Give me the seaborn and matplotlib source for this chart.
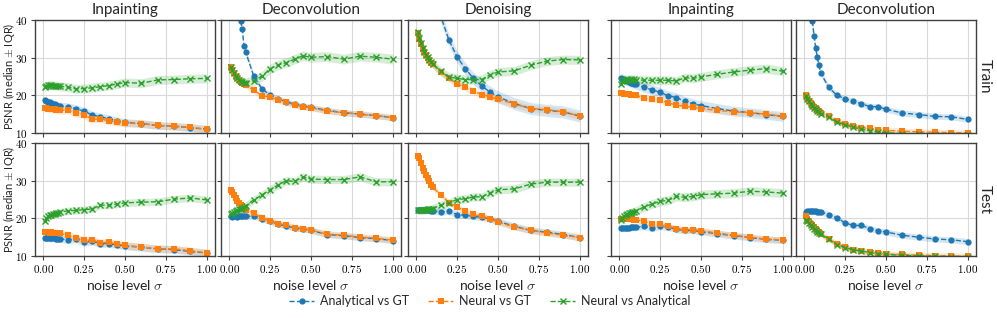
import numpy as np
import pandas as pd
import matplotlib
matplotlib.use("Agg")
import matplotlib.pyplot as plt
from matplotlib.lines import Line2D
from matplotlib.ticker import FuncFormatter
import seaborn as sns

# ---------------------------------------------------------
# Data (median PSNR)
# ---------------------------------------------------------
sigma = [0.01, 0.02, 0.03, 0.04, 0.05, 0.06, 0.07, 0.08, 0.09, 0.10,
         0.15, 0.20, 0.25, 0.30, 0.35, 0.40, 0.45, 0.50,
         0.60, 0.70, 0.80, 0.90, 1.00]

titles = ["Inpainting", "Deconvolution", "Denoising", "Inpainting", "Deconvolution"]
rows = ["Train", "Test"]
pairs = ["Analytical vs GT", "Neural vs GT", "Neural vs Analytical"]

# Train row
tr_inp_a_gt = [18.7, 18.5, 18.3, 18.1, 17.9, 17.8, 17.6, 17.5, 17.3, 17.2, 17.0, 16.5, 15.8, 14.8, 14.3, 13.8, 13.2, 12.8, 12.5, 12.0, 11.8, 11.4, 11.0]
tr_inp_n_gt = [16.7, 16.6, 16.5, 16.5, 16.4, 16.3, 16.3, 16.2, 16.1, 16.0, 16.1, 15.2, 14.8, 13.6, 13.8, 13.2, 12.9, 12.6, 12.5, 12.0, 11.8, 11.5, 11.0]
tr_inp_n_a = [22.3, 22.6, 22.7, 22.7, 22.7, 22.6, 22.6, 22.6, 22.5, 22.4, 22.2, 21.7, 21.8, 22.0, 22.3, 22.6, 23.0, 23.4, 23.2, 24.1, 24.2, 24.4, 24.5]

tr_dec_a_gt = [72.0, 62.0, 55.0, 50.0, 46.0, 42.5, 39.7, 37.6, 33.2, 31.6, 25.1, 21.7, 20.1, 19.0, 18.3, 17.6, 17.1, 16.8, 16.0, 15.4, 15.0, 14.6, 14.1]
tr_dec_n_gt = [27.6, 26.7, 25.9, 25.1, 24.5, 24.0, 23.6, 23.2, 22.9, 22.7, 21.4, 19.9, 19.5, 18.8, 18.1, 17.4, 17.0, 16.7, 15.8, 15.4, 15.0, 14.6, 14.1]
tr_dec_n_a = [27.6, 26.7, 25.9, 25.1, 24.5, 24.1, 23.7, 23.5, 23.4, 23.4, 23.9, 25.1, 27.0, 28.1, 28.7, 29.6, 30.5, 30.1, 30.3, 29.6, 30.4, 30.1, 29.6]

tr_den_a_gt = [90.0, 80.0, 73.0, 68.0, 64.0, 60.0, 56.0, 53.0, 50.0, 47.5, 41.0, 34.7, 30.2, 27.1, 24.5, 22.5, 20.9, 19.6, 17.8, 16.5, 16.0, 15.6, 14.5]
tr_den_n_gt = [36.6, 35.0, 33.6, 32.4, 31.4, 30.6, 29.9, 29.3, 28.7, 28.2, 26.2, 24.5, 23.1, 22.1, 21.1, 20.2, 19.6, 19.0, 17.7, 16.5, 16.2, 15.6, 14.5]
tr_den_n_a = [36.7, 35.2, 33.8, 32.6, 31.6, 30.8, 30.1, 29.5, 28.9, 28.4, 26.4, 24.9, 24.5, 24.2, 24.2, 24.2, 25.4, 26.2, 26.5, 28.0, 29.1, 29.5, 29.4]

tr_inp2_a_gt = [24.6, 24.4, 24.2, 24.0, 23.8, 23.6, 23.4, 23.3, 23.1, 23.0, 22.1, 21.5, 20.8, 19.9, 19.4, 18.4, 17.8, 17.3, 16.5, 15.8, 15.4, 14.9, 14.4]
tr_inp2_n_gt = [20.5, 20.5, 20.4, 20.4, 20.3, 20.3, 20.2, 20.1, 20.1, 20.0, 19.3, 18.9, 18.7, 18.0, 17.4, 17.1, 16.8, 16.5, 16.0, 15.6, 15.4, 15.0, 14.4]
tr_inp2_n_a = [23.1, 23.8, 24.0, 24.2, 24.3, 24.2, 24.3, 24.2, 24.3, 24.2, 24.0, 24.0, 24.0, 24.0, 23.8, 24.7, 24.5, 24.9, 25.6, 26.2, 26.7, 27.1, 26.4]

tr_dec2_a_gt = [70.0, 56.0, 48.0, 43.0, 39.8, 35.8, 32.6, 30.2, 28.0, 26.0, 22.1, 20.0, 19.1, 18.4, 17.8, 17.0, 17.0, 16.3, 15.3, 14.9, 14.4, 14.3, 13.6]
tr_dec2_n_gt = [20.0, 19.3, 18.6, 18.0, 17.5, 17.0, 16.6, 16.2, 15.8, 15.4, 14.5, 13.1, 12.5, 11.8, 11.4, 11.2, 10.9, 10.7, 10.5, 10.3, 10.2, 10.1, 10.0]
tr_dec2_n_a = [19.9, 19.1, 18.4, 17.8, 17.2, 16.7, 16.3, 15.9, 15.5, 15.1, 14.3, 12.8, 12.2, 11.5, 11.0, 10.6, 10.3, 10.1, 9.8, 9.7, 9.6, 9.5, 9.5]

# Test row
te_inp_a_gt = [14.9, 14.8, 14.8, 14.7, 14.7, 14.8, 14.7, 14.6, 14.6, 14.6, 14.3, 14.5, 13.6, 13.9, 13.3, 13.3, 13.0, 12.7, 12.3, 11.9, 11.7, 11.2, 10.8]
te_inp_n_gt = [16.3, 16.3, 16.3, 16.2, 16.3, 16.2, 16.1, 16.1, 16.0, 16.0, 15.6, 14.8, 14.2, 14.2, 13.5, 13.6, 13.2, 12.8, 12.4, 11.9, 11.9, 11.4, 10.8]
te_inp_n_a = [19.4, 20.1, 20.5, 20.8, 20.9, 21.2, 21.2, 21.4, 21.4, 21.6, 22.0, 22.1, 22.3, 22.5, 23.5, 23.5, 23.8, 24.1, 24.3, 24.4, 25.1, 25.4, 24.9]

te_dec_a_gt = [20.5, 20.4, 20.5, 20.5, 20.4, 20.5, 20.5, 20.6, 20.6, 20.6, 20.5, 19.8, 19.2, 18.4, 18.0, 17.4, 17.2, 16.8, 15.7, 15.4, 14.9, 14.6, 14.1]
te_dec_n_gt = [27.4, 26.9, 26.1, 25.3, 24.7, 24.1, 23.6, 23.2, 22.7, 22.3, 21.4, 20.1, 19.4, 18.6, 18.2, 17.5, 17.3, 16.9, 15.8, 15.5, 15.0, 14.7, 14.2]
te_dec_n_a = [21.2, 21.5, 21.8, 22.0, 22.2, 22.4, 22.6, 22.8, 23.0, 23.3, 24.9, 26.2, 27.6, 28.9, 30.0, 29.8, 31.0, 30.4, 30.3, 30.3, 31.0, 29.7, 29.7]

te_den_a_gt = [22.1, 22.1, 22.2, 22.1, 22.1, 22.2, 22.1, 22.1, 22.0, 22.0, 21.7, 21.9, 21.0, 20.8, 20.5, 20.3, 19.9, 19.2, 17.9, 16.8, 16.3, 15.7, 14.9]
te_den_n_gt = [36.6, 36.0, 34.7, 33.4, 32.5, 31.6, 30.7, 29.8, 28.9, 28.2, 26.3, 24.2, 23.0, 21.9, 21.2, 20.5, 19.9, 19.0, 17.7, 16.8, 16.1, 15.5, 14.9]
te_den_n_a = [22.1, 22.1, 22.2, 22.2, 22.3, 22.3, 22.4, 22.4, 22.5, 22.6, 23.5, 24.1, 25.0, 25.2, 25.7, 25.7, 26.7, 27.6, 27.8, 29.1, 29.6, 29.6, 29.6]

te_inp2_a_gt = [17.4, 17.4, 17.5, 17.5, 17.5, 17.5, 17.6, 17.6, 17.6, 17.6, 17.9, 17.4, 17.9, 17.6, 17.1, 16.8, 16.8, 16.5, 15.9, 15.4, 14.9, 14.4, 14.2]
te_inp2_n_gt = [19.9, 19.9, 19.9, 19.8, 19.8, 19.8, 19.7, 19.7, 19.6, 19.6, 19.2, 18.6, 18.6, 17.9, 17.3, 17.0, 17.0, 16.7, 16.1, 15.5, 15.0, 14.5, 14.3]
te_inp2_n_a = [19.6, 20.1, 20.5, 20.8, 21.2, 21.3, 21.5, 21.6, 21.8, 21.9, 23.0, 23.8, 24.5, 24.8, 25.8, 25.6, 25.8, 26.3, 26.5, 26.7, 27.2, 27.0, 26.7]

te_dec2_a_gt = [21.7, 21.9, 21.9, 21.9, 21.9, 21.9, 21.9, 21.8, 21.8, 21.7, 21.0, 20.1, 18.8, 18.1, 18.1, 17.3, 16.7, 16.4, 15.5, 15.0, 14.5, 14.3, 13.8]
te_dec2_n_gt = [20.5, 19.9, 19.2, 18.6, 18.1, 17.6, 17.2, 16.7, 16.4, 15.9, 14.5, 13.3, 12.3, 11.7, 11.4, 11.0, 10.8, 10.5, 10.4, 10.2, 10.1, 10.0, 9.9]
te_dec2_n_a = [19.6, 19.2, 18.8, 18.2, 17.8, 17.3, 17.0, 16.5, 16.1, 15.8, 14.5, 13.0, 12.2, 11.6, 11.3, 10.9, 10.6, 10.4, 10.2, 10.0, 9.9, 9.8, 9.7]

# half IQR per panel, order: [Analytical vs GT, Neural vs GT, Neural vs Analytical]
tr_iqr = [[1.0, 1.0, 1.2], [0.8, 0.8, 1.3], [1.6, 0.9, 1.2], [1.3, 0.8, 1.2], [0.8, 0.8, 0.6]]
te_iqr = [[1.0, 1.0, 1.0], [0.8, 0.9, 1.1], [0.9, 0.8, 1.1], [0.9, 0.8, 1.2], [0.8, 0.8, 0.6]]

train_panels = [
    [tr_inp_a_gt, tr_inp_n_gt, tr_inp_n_a],
    [tr_dec_a_gt, tr_dec_n_gt, tr_dec_n_a],
    [tr_den_a_gt, tr_den_n_gt, tr_den_n_a],
    [tr_inp2_a_gt, tr_inp2_n_gt, tr_inp2_n_a],
    [tr_dec2_a_gt, tr_dec2_n_gt, tr_dec2_n_a],
]
test_panels = [
    [te_inp_a_gt, te_inp_n_gt, te_inp_n_a],
    [te_dec_a_gt, te_dec_n_gt, te_dec_n_a],
    [te_den_a_gt, te_den_n_gt, te_den_n_a],
    [te_inp2_a_gt, te_inp2_n_gt, te_inp2_n_a],
    [te_dec2_a_gt, te_dec2_n_gt, te_dec2_n_a],
]

# ---------------------------------------------------------
# Style
# ---------------------------------------------------------
sns.set_style("whitegrid", {
    "axes.edgecolor": "0.25",
    "grid.color": "0.85",
    "xtick.bottom": True,
    "ytick.left": True,
})
plt.rcParams["font.family"] = ["Lato", "DejaVu Sans"]
plt.rcParams["mathtext.fontset"] = "cm"
plt.rcParams["xtick.color"] = "0.25"
plt.rcParams["ytick.color"] = "0.25"
plt.rcParams["xtick.labelcolor"] = "black"
plt.rcParams["ytick.labelcolor"] = "black"
plt.rcParams["xtick.major.size"] = 3
plt.rcParams["ytick.major.size"] = 3

colors = ["#1f77b4", "#ff7f0e", "#2ca02c"]
markers = ["o", "s", "x"]

W, H = 997, 318
fig = plt.figure(figsize=(W / 100, H / 100), dpi=100)

lefts = [35, 221, 408, 611, 796]
pw = 180
tops = [20, 143]
ph = 113

num_fmt = FuncFormatter(lambda v, p: f"${v:.2f}$")
int_fmt = FuncFormatter(lambda v, p: f"${v:.0f}$")

for r, panels in enumerate([train_panels, test_panels]):
    iqr = tr_iqr if r == 0 else te_iqr
    for c in range(5):
        ax = fig.add_axes([lefts[c] / W, 1 - (tops[r] + ph) / H, pw / W, ph / H])
        for k in range(3):
            med = np.array(panels[c][k])
            ax.fill_between(sigma, med - iqr[c][k], med + iqr[c][k],
                            color=colors[k], alpha=0.18, lw=0)
            df = pd.DataFrame({"sigma": sigma, "psnr": med})
            sns.lineplot(data=df, x="sigma", y="psnr", ax=ax, color=colors[k],
                         marker=markers[k], markersize=4.5 if k < 2 else 5,
                         markeredgewidth=0 if k < 2 else 1.0,
                         markeredgecolor=colors[k],
                         linestyle="--", linewidth=1.0)
        ax.set_xlim(-0.05, 1.05)
        ax.set_ylim(10, 40)
        ax.set_xticks([0, 0.25, 0.5, 0.75, 1.0])
        ax.set_yticks([10, 20, 30, 40])
        ax.xaxis.set_major_formatter(num_fmt)
        ax.yaxis.set_major_formatter(int_fmt)
        ax.tick_params(labelsize=8, pad=2, width=0.8)
        for s in ax.spines.values():
            s.set_linewidth(1.0)
        ax.set_xlabel("")
        ax.set_ylabel("")
        if r == 0:
            ax.set_title(titles[c], fontsize=11, pad=4)
            ax.tick_params(labelbottom=False)
        else:
            ax.set_xlabel(r"noise level $\sigma$", fontsize=10, labelpad=2)
        if c == 0:
            ax.set_ylabel(r"PSNR (median $\pm$ IQR)", fontsize=8)
            ax.yaxis.set_label_coords(-0.1, 0.5)
        else:
            ax.tick_params(labelleft=False)
        if c == 4:
            ax.yaxis.set_label_position("right")
            ax.set_ylabel(rows[r], fontsize=11, rotation=270, labelpad=11)

handles = [Line2D([], [], color=colors[k], marker=markers[k], linestyle="--",
                  linewidth=1.0, markersize=4.5, markeredgewidth=0 if k < 2 else 1.0)
           for k in range(3)]
fig.legend(handles, pairs, loc="center", bbox_to_anchor=(490 / W, 1 - 301 / H),
           ncol=3, frameon=False, fontsize=9, columnspacing=1.5, handlelength=2.0,
           handletextpad=0.5)

fig.savefig("out.png", dpi=100)
